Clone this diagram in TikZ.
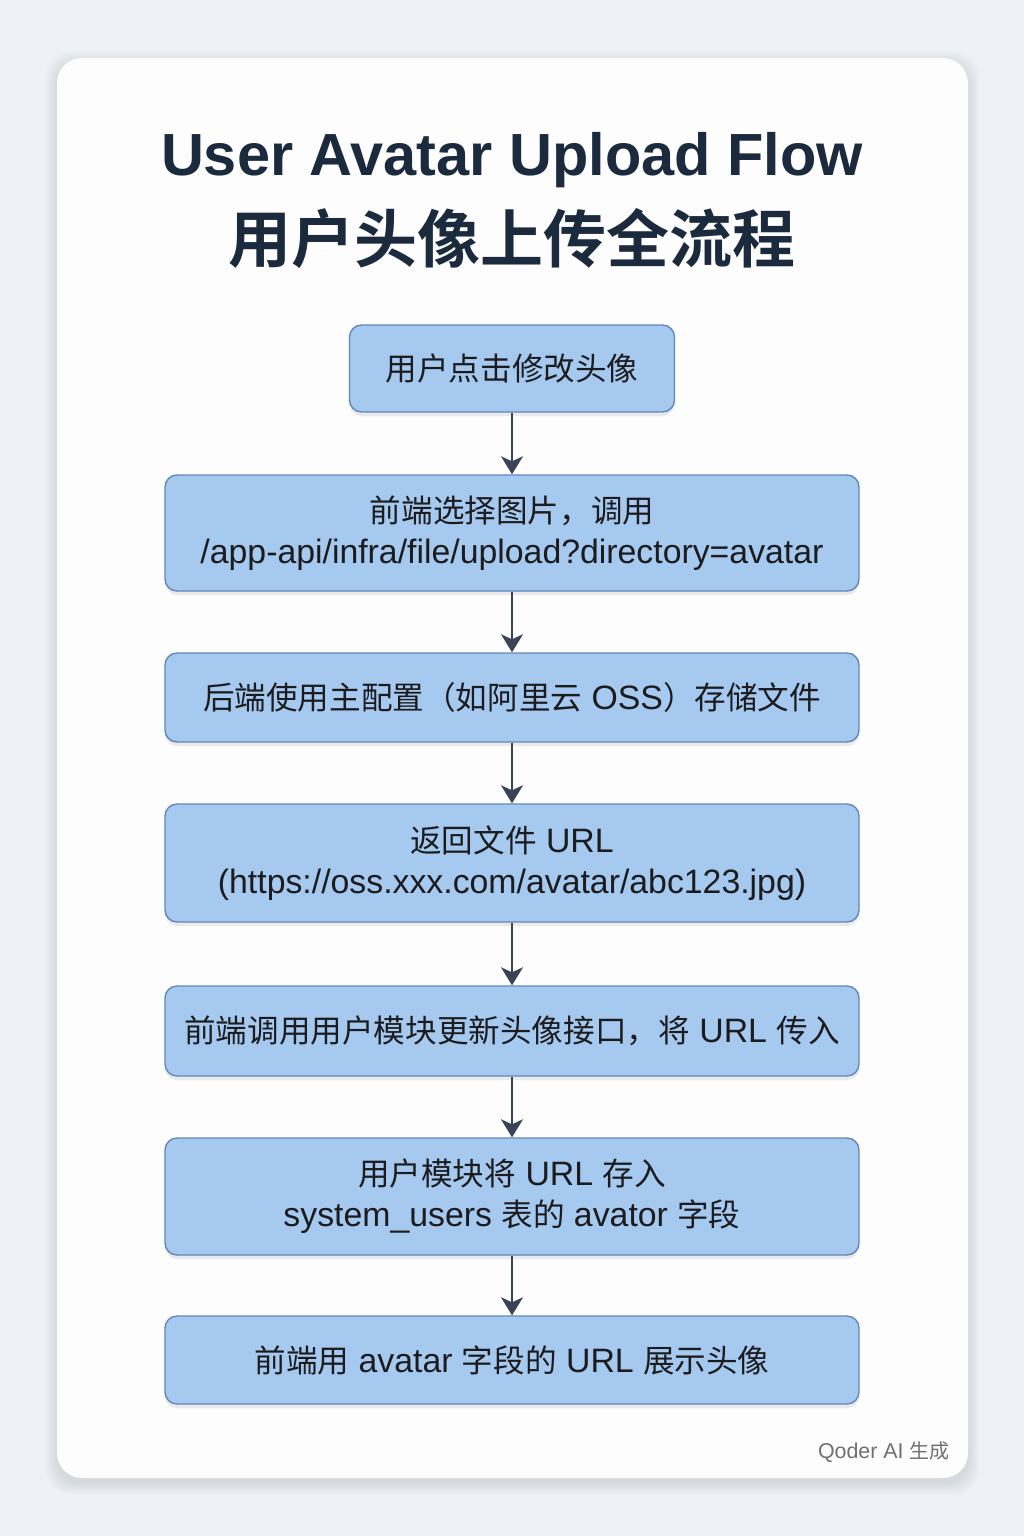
\documentclass[tikz,border=0pt]{standalone}
\usepackage{fontspec}
\setmainfont{Liberation Sans}[Scale=1.07]
\newfontfamily\cjkfam{Noto Sans CJK SC}[BoldFont={Noto Sans CJK SC Bold}]
\newcommand\zh[1]{{\cjkfam #1}}
\usetikzlibrary{arrows.meta,shadows}
\definecolor{bgc}{RGB}{238,241,245}
\definecolor{cardc}{RGB}{253,253,253}
\definecolor{titlec}{RGB}{28,42,61}
\definecolor{boxfill}{RGB}{166,201,240}
\definecolor{boxline}{RGB}{98,135,186}
\definecolor{arrowc}{RGB}{58,68,84}
\definecolor{txtc}{RGB}{28,28,30}
\definecolor{wmc}{RGB}{112,112,112}
\tikzset{
  flowbox/.style={draw=boxline, line width=0.7pt, fill=boxfill, rounded corners=6pt,
    align=center, text=txtc, inner sep=0pt,
    font=\fontsize{15.8}{20.5}\selectfont,
    drop shadow={opacity=0.15, shadow xshift=0pt, shadow yshift=-2pt}},
  widebox/.style={flowbox, minimum width=347pt},
  flowarrow/.style={draw=arrowc, line width=1pt, -{Stealth[length=9pt, width=11pt, inset=2.5pt]}}
}
\begin{document}
\begin{tikzpicture}[x=0.5pt, y=-0.5pt]
\useasboundingbox (0,0) rectangle (1024,1536);
\fill[bgc] (0,0) rectangle (1024,1536);
% card shadow (soft)
\foreach \d in {1,2,...,12}{
  \fill[black, opacity=0.006, rounded corners=13pt] (57-\d,58-\d+5) rectangle (968+\d,1478+\d+5);
}
\fill[cardc, rounded corners=12.5pt] (57,58) rectangle (968,1478);
% title
\node[text=titlec, font=\fontsize{27.8}{32}\selectfont\bfseries] (t1) at (512,160) {User Avatar Upload Flow};
\node[text=titlec, font=\fontsize{31.5}{36}\selectfont\bfseries] (t2) at (512,238) {\zh{用户头像上传全流程}};
% boxes
\node[flowbox, minimum width=162.5pt, minimum height=43.5pt] (b1) at (512,368.5) {\zh{用户点击修改头像}};
\node[widebox, minimum height=58pt] (b2) at (512,533) {\zh{前端选择图片，调用}\\/app-api/infra/file/upload?directory=avatar};
\node[widebox, minimum height=44.5pt] (b3) at (512,697.5) {\zh{后端使用主配置（如阿里云} OSS\zh{）存储文件}};
\node[widebox, minimum height=59pt] (b4) at (512,863) {\zh{返回文件} URL\\(https://oss.xxx.com/avatar/abc123.jpg)};
\node[widebox, minimum height=45pt] (b5) at (512,1031) {\zh{前端调用用户模块更新头像接口，将} URL \zh{传入}};
\node[widebox, minimum height=58.5pt] (b6) at (512,1196.5) {\zh{用户模块将} URL \zh{存入}\\system\_users \zh{表的} avator \zh{字段}};
\node[widebox, minimum height=44pt] (b7) at (512,1360) {\zh{前端用} avatar \zh{字段的} URL \zh{展示头像}};
% arrows
\draw[flowarrow] (b1.south) -- (b2.north);
\draw[flowarrow] (b2.south) -- (b3.north);
\draw[flowarrow] (b3.south) -- (b4.north);
\draw[flowarrow] (b4.south) -- (b5.north);
\draw[flowarrow] (b5.south) -- (b6.north);
\draw[flowarrow] (b6.south) -- (b7.north);
% watermark
\node[text=wmc, anchor=east, inner sep=0pt, font=\fontsize{10}{12}\selectfont] (wm) at (950,1452) {Qoder AI \zh{生成}};
\end{tikzpicture}
\end{document}
